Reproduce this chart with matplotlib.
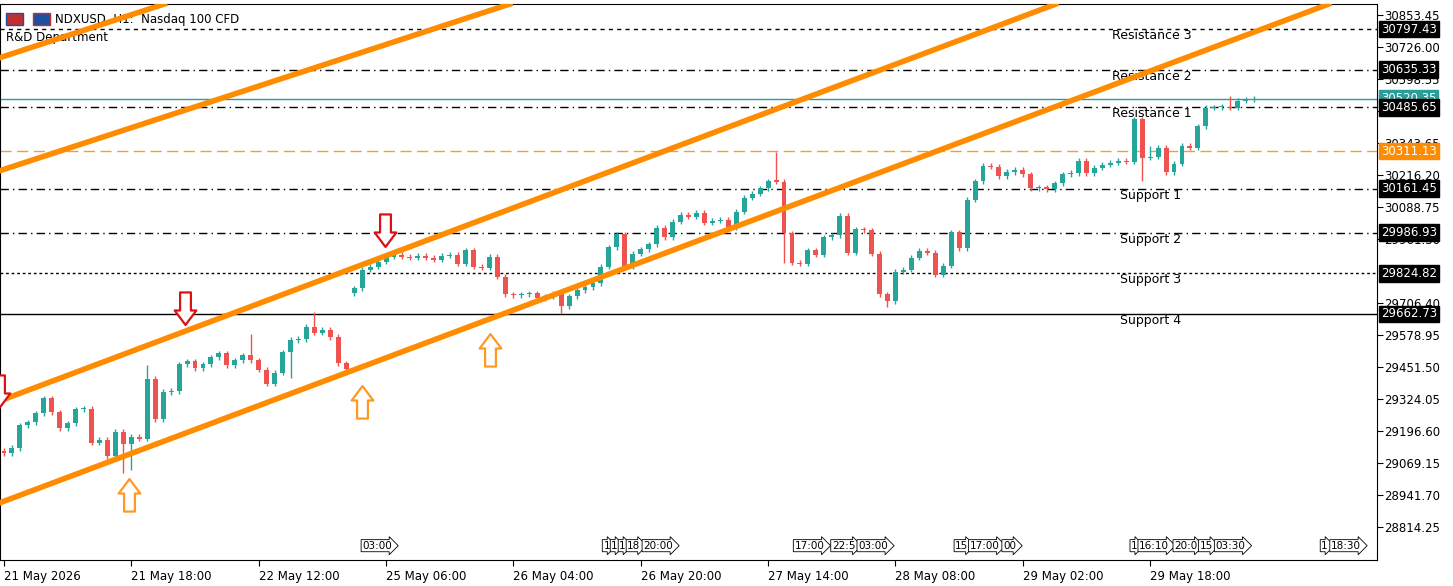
import matplotlib
matplotlib.use("Agg")
import matplotlib.pyplot as plt
from matplotlib.path import Path
import numpy as np

UP = "#26a69a"
DOWN = "#ef5350"
ORANGE = "#ff8c00"

# hourly closes, NDXUSD H1
CLOSES = [
    29109, 29129, 29220, 29232, 29268, 29328, 29272, 29208, 29228, 29284,
    29286, 29149, 29161, 29097, 29193, 29145, 29173, 29165, 29404, 29244,
    29352, 29356, 29463, 29475, 29447, 29463, 29491, 29507, 29459, 29479,
    29499, 29479, 29440, 29384, 29428, 29511, 29559, 29563, 29611, 29587,
    29599, 29571, 29467, 29444,
    29766, 29838, 29850, 29870, 29890, 29898, 29890, 29886, 29894, 29886,
    29878, 29894, 29898, 29862, 29917, 29850, 29846, 29890, 29810, 29742,
    29738, 29742, 29746, 29726, 29734, 29746, 29694, 29734, 29758, 29770,
    29786, 29850, 29929, 29981, 29850, 29902, 29921, 29941, 30005, 29969,
    30029, 30057, 30049, 30065, 30025, 30033, 30037, 30009, 30069, 30125,
    30141, 30164, 30192, 30190, 29985, 29866, 29862, 29917, 29898,
    29969, 29977, 30053, 29906, 30001, 29997, 29902, 29742, 29714, 29830,
    29838, 29886, 29914, 29906, 29818, 29854, 29989, 29925, 30117, 30192,
    30252, 30248, 30212, 30228, 30236, 30220, 30164, 30168, 30160, 30184,
    30220, 30224, 30272, 30224, 30244, 30256, 30264, 30272, 30268, 30439,
    30284, 30288, 30324, 30228, 30260, 30332, 30324, 30411, 30483, 30485,
    30487, 30483, 30511, 30515, 30520,
]
FIRST_OPEN = 29118
GAP_OPENS = {44: 29746}  # weekend gap
# long wicks: index -> (high, low)
WICKS = {
    15: (None, 29029), 16: (None, 29041), 18: (29459, None), 31: (29583, None),
    36: (None, 29407), 39: (29670, None), 70: (None, 29666), 97: (30308, None),
    98: (None, 29866), 111: (None, 29690), 143: (None, 30192), 144: (30330, None),
    154: (30531, None),
}
WICK_PAD = 10

LEVELS = [
    (30797.43, "Resistance 3", (0, (3, 3)), 1112),
    (30635.33, "Resistance 2", (0, (6, 3, 1, 3)), 1112),
    (30485.65, "Resistance 1", (0, (6, 3, 1, 3)), 1112),
    (30161.45, "Support 1", (0, (6, 3, 1, 3)), 1120),
    (29986.93, "Support 2", (0, (6, 3, 1, 3)), 1120),
    (29824.82, "Support 3", (0, (2, 2)), 1120),
    (29662.73, "Support 4", "-", 1120),
]
PIVOT = 30311.13
LAST = 30520.35

# channel lines, two points each (bar index, price)
CHANNELS = [
    ((-0.25, 28914), (167.8, 30913)),
    ((-0.25, 29320), (133.5, 30913)),
    ((-0.25, 30236), (65.1, 30913)),
    ((-0.25, 30686), (21.7, 30913)),
]
DOWN_ARROWS = [(-0.6, 29348), (22.7, 29678), (47.9, 29989)]
UP_ARROWS = [(15.7, 28950), (45.0, 29320), (61.0, 29527)]

Y_TICKS = [30853.45, 30726.00, 30598.55, 30471.10, 30343.65, 30216.20, 30088.75,
           29961.30, 29706.40, 29578.95, 29451.50, 29324.05, 29196.60, 29069.15,
           28941.70, 28814.25]
X_LABELS = ["21 May 2026", "21 May 18:00", "22 May 12:00", "25 May 06:00",
            "26 May 04:00", "26 May 20:00", "27 May 14:00", "28 May 08:00",
            "29 May 02:00", "29 May 18:00"]
EVENTS = [(45, "03:00"), (75.3, "1"), (76.3, "1"), (77.3, "1"), (78.3, "18"), (80.3, "20:00"),
          (99.3, "17:00"), (104.0, "22:5"), (107.3, "03:00"), (119.5, "15"), (121.3, "17:00"),
          (125.5, "00"), (141.6, "1"), (142.6, "16:10"), (147.0, "20:0"), (150.2, "15"),
          (152.2, "03:30"), (165.5, "1"), (166.7, "18:30")]

plt.rcParams["font.family"] = "DejaVu Sans"
fig = plt.figure(figsize=(14.53, 5.86), dpi=100)
ax = fig.add_axes([0.0, 1 - 560 / 586, 1377 / 1453, 556 / 586])
ax.set_xlim(-0.5, 172.5)
ax.set_ylim(28683, 30897)

opens = [FIRST_OPEN] + CLOSES[:-1]
for i, o in GAP_OPENS.items():
    opens[i] = o
for i, (o, c) in enumerate(zip(opens, CLOSES)):
    col = UP if c >= o else DOWN
    hi, lo = WICKS.get(i, (None, None))
    hi = hi if hi is not None else max(o, c) + WICK_PAD
    lo = lo if lo is not None else min(o, c) - WICK_PAD
    ax.vlines(i, lo, hi, color=col, lw=1, zorder=3)
    h = max(abs(c - o), 5)
    ax.bar(i, h, bottom=min(o, c), width=0.62, color=col, zorder=4, linewidth=0)

for p1, p2 in CHANNELS:
    ax.axline(p1, p2, color=ORANGE, lw=4, zorder=5)

for price, name, ls, xpix in LEVELS:
    ax.axhline(price, color="black", lw=1, ls=ls, zorder=2)
    ax.text(xpix / 1377, price, name, transform=ax.get_yaxis_transform(),
            fontsize=9, va="top", ha="left")
ax.axhline(PIVOT, color="#f0a030", lw=1, ls=(0, (8, 4)), zorder=2)
ax.axhline(LAST, color="#2a9d9a", lw=1, zorder=2)

arrow_down = Path([(-0.3, 1), (0.3, 1), (0.3, 0), (0.6, 0), (0, -0.8), (-0.6, 0), (-0.3, 0), (-0.3, 1)],
                  closed=True)
arrow_up = Path([(x, -y) for x, y in arrow_down.vertices], closed=True)
for x, y in DOWN_ARROWS:
    ax.plot(x, y, marker=arrow_down, ms=26, mfc="white", mec="#dd1111", mew=1.6, zorder=6)
for x, y in UP_ARROWS:
    ax.plot(x, y, marker=arrow_up, ms=26, mfc="white", mec="#ff9922", mew=1.6, zorder=6)

# axes styling
for s in ["top", "left", "bottom"]:
    ax.spines[s].set_color("black")
ax.yaxis.tick_right()
ax.set_yticks(Y_TICKS)
ax.set_yticklabels([f"{v:.2f}" for v in Y_TICKS], fontsize=8.5)
ax.tick_params(axis="y", length=4, pad=1)
ax.set_xticks(np.arange(len(X_LABELS)) * 16)
ax.set_xticklabels(X_LABELS, fontsize=8.5, ha="left")
ax.tick_params(axis="x", length=4, pad=3)

# right-side price boxes
for price, _, _, _ in LEVELS:
    ax.text(1.003, price, f"{price:.2f}", transform=ax.get_yaxis_transform(), fontsize=8.5,
            color="white", va="center", ha="left", zorder=10,
            bbox=dict(boxstyle="square,pad=0.15", fc="black", ec="black"), clip_on=False)
ax.text(1.003, PIVOT, f"{PIVOT:.2f}", transform=ax.get_yaxis_transform(), fontsize=8.5,
        color="white", va="center", ha="left", bbox=dict(boxstyle="square,pad=0.15", fc=ORANGE, ec=ORANGE),
        clip_on=False, zorder=10)
ax.text(1.003, LAST, f"{LAST:.2f}", transform=ax.get_yaxis_transform(), fontsize=8.5,
        color="white", va="center", ha="left", bbox=dict(boxstyle="square,pad=0.15", fc="#2a9d9a", ec="#2a9d9a"),
        clip_on=False, zorder=9)

for x, lab in EVENTS:
    ax.text(x, 28740, lab, fontsize=7.5, va="center", ha="left", zorder=7,
            bbox=dict(boxstyle="rarrow,pad=0.1", fc="white", ec="black", lw=0.6))

ax.text(0.04, 0.973, "NDXUSD, H1:  Nasdaq 100 CFD", transform=ax.transAxes, fontsize=8.5, va="center")
ax.text(0.004, 0.94, "R&D Department", transform=ax.transAxes, fontsize=8.5, va="center")
ax.add_patch(plt.Rectangle((0.004, 0.962), 0.013, 0.022, transform=ax.transAxes, fc="#c03030", ec="#2050a0"))
ax.add_patch(plt.Rectangle((0.024, 0.962), 0.012, 0.022, transform=ax.transAxes, fc="#2050a0", ec="#c03030"))

fig.savefig("out.png", dpi=100)
